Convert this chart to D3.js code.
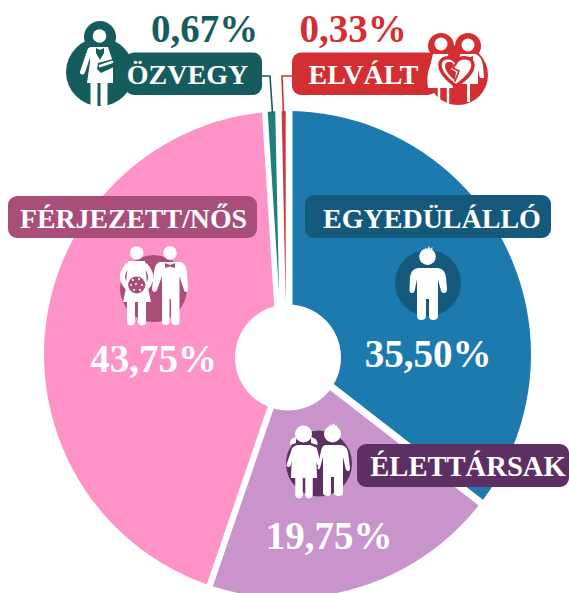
<!DOCTYPE html>
<html><head><meta charset="utf-8">
<script src="https://cdn.jsdelivr.net/npm/d3@7/dist/d3.min.js"></script>
<style>html,body{margin:0;padding:0;background:#fff}svg{display:block}text{font-family:"Liberation Serif",serif;font-weight:700}</style>
</head><body><svg id="c" width="569" height="593"></svg>
<script>
const categories=["EGYEDÜLÁLLÓ","ÉLETTÁRSAK","FÉRJEZETT/NŐS","ÖZVEGY","ELVÁLT"];
const values=[35.50,19.75,43.75,0.67,0.33];
const percentLabels=["35,50%","19,75%","43,75%","0,67%","0,33%"];
const sliceColors=["#1c7aae","#c994cc","#fd93c6","#1f7f7c","#d3343a"];
const badgeColors=["#155a7c","#5d2f63","#a94e78","#175c5c","#d32f33"];
const percentColors=["#fff","#fff","#fff","#175c5c","#d32f33"];
const badgeBoxes=[[305,195,246,43],[357,444,212,43],[8,196,249,42],[125,52.5,137,42.5],[292,52.5,145,42.5]];
const labelAnchors=[[432,228],[468,476],[133.5,228],[187.5,84],[363.5,84]];
const labelSizes=[28,28.6,27.8,28,28];
const percentAnchors=[[428,367],[329,549],[153.5,372],[204.5,42],[353,42]];
// each wedge has its own apex, which makes the white gaps between them
const sliceApex=[[292.5,352],[290.5,359.5],[278.5,375],[279,292],[285.7,305]];

const svg=d3.select("#c"), W="#fff";
const cx=287.5, cy=354.6, R=243.5;
svg.append("clipPath").attr("id","disc").append("circle").attr("cx",cx).attr("cy",cy).attr("r",R);
const pie=d3.pie().sort(null)(values);
const arc=d3.arc().innerRadius(0).outerRadius(R*2);
svg.append("g").attr("clip-path","url(#disc)")
  .selectAll("path").data(pie).join("path").attr("d",arc)
  .attr("transform",(d,i)=>`translate(${sliceApex[i]})`).attr("fill",(d,i)=>sliceColors[i]);
svg.append("circle").attr("cx",288).attr("cy",357.5).attr("r",53).attr("fill",W);

// connectors
const line=d3.line();
svg.append("path").attr("d",line([[262,76],[270,76],[272.5,113]])).attr("fill","none").attr("stroke","#175c5c").attr("stroke-width",1.6);
svg.append("path").attr("d",line([[292,76],[282,76],[283.5,113]])).attr("fill","none").attr("stroke","#d32f33").attr("stroke-width",1.6);

const g=svg.append("g");
const circ=(x,y,r,f)=>g.append("circle").attr("cx",x).attr("cy",y).attr("r",r).attr("fill",f);
const poly=(d,f)=>g.append("path").attr("d",d).attr("fill",f);
const stroke=(d,c,w)=>g.append("path").attr("d",d).attr("fill","none").attr("stroke",c).attr("stroke-width",w).attr("stroke-linecap","round").attr("stroke-linejoin","round");

// halos behind badges
circ(100,72,34,badgeColors[3]); circ(100,37,16,badgeColors[3]);
circ(458,75,30,badgeColors[4]); circ(441,46,13,badgeColors[4]); circ(468,46,13,badgeColors[4]);
circ(428,283,33,badgeColors[0]);
circ(153.5,288.5,33.5,badgeColors[2]);
circ(319,463.5,33,badgeColors[1]);

// badges
g.selectAll("rect").data(badgeBoxes).join("rect")
 .attr("x",d=>d[0]).attr("y",d=>d[1]).attr("width",d=>d[2]).attr("height",d=>d[3]).attr("rx",9).attr("fill",(d,i)=>badgeColors[i]);

// ---- single person (blue)
circ(427.5,256.7,8.3,W); poly("M424,250L426,248L427,250L429,246L430,249L432.5,247L432,252Z",W);
poly("M418,268H438Q445,269 446,277L447,289Q447,293 444,293Q441,293 440.5,289L438,279V316Q438,320 433,320Q429,320 429,316V299H426V316Q426,320 421,320Q417,320 417,316V279L415,289Q414.5,293 412,293Q409,293 409.5,289L410,277Q411,269 418,268Z",W);

// ---- bride and groom (pink)
circ(136.7,253,6.8,W); circ(170,253,6.8,W);
stroke("M127,266Q118,277 127,287M146,266Q155,277 147,287",W,5);
poly("M128,261H145L147,284H126Z",W);
poly("M126,288H148L151,302H123Z",W);
stroke("M131,302V321.5M142,302V321.5",W,8);
circ(136.7,285,8.5,badgeColors[2]);
[[133,280],[139,279],[131,285],[136,284],[142,285],[134,290],[140,290]].forEach(p=>circ(p[0],p[1],1,W));
poly("M160,262H180Q186,263 187,272L188,290Q188,292 186,292Q184,292 184,290L179.5,276V322Q179.5,325 176,325Q171.5,325 171,322V299H169.5V322Q169.5,325 166,325Q162,325 162,322V276L157,290Q156,292 154,292Q152,291 152,289L154,272Q155,263 160,262Z",W);
poly("M165,263L170,265L175,263V268L170,266.5L165,268Z",badgeColors[2]);

// ---- couple (lilac)
circ(303.5,434,8.5,W);
poly("M296,437Q289,438 290,445L296,443ZM311,437Q318,438 317.5,445L311,443Z",W);
stroke("M294,449L288.5,465M315,449L318.5,463",W,4);
poly("M297,445H310Q315,446 316,450L317,478H291L292,450Q293,446 297,445Z",W);
stroke("M299,478V494.5M309,478V494.5",W,7.5);
circ(332.5,434,8.5,W); poly("M329,427L331,424L332,426L334,423L335,426L337,425L337,429Z",W);
poly("M325,445H341Q347,446 348,452L350,468Q350,471 348,471Q346,471 345.5,468L343,457V493Q343,496 339,496Q334,496 334,493V477H331V493Q331,496 328,496Q323,496 323,493V457L320,468Q319,470 318,469Q317,468 318,466L321,451Q322,446 325,445Z",W);

// ---- widow
circ(99.5,36,6.8,W);
stroke("M90,50L82.5,72",W,5);
poly("M90,47H108L113,62L113,83H87L90,62Z",W);
stroke("M94,83V104M104,83V104",W,7);
poly("M96,48L100,50L104,48L104,53L100,60L96,53Z",badgeColors[3]);
poly("M98,63L113,59L114,67L101,73L97,69Z",badgeColors[3]);
stroke("M100,66L112,62",W,2.5);

// ---- divorced
circ(441,44,6.5,W); circ(468,45,6.5,W);
poly("M433,54H448L453,88H428Q426,75 430,66Z",W);
stroke("M439,88V102M448,88V102",W,2.5);
poly("M460,54H476Q482,57 483,66L484,78H480L478,70V84H470V102H467V84H458Z",W);
poly("M463,56L468,58L473,56V60L468,58.5L463,60Z",badgeColors[4]);
const heart="M456,86C445,78 440,72 440,65C440,57 451,55 456,62C461,55 473,57 473,65C473,72 467,78 456,86Z";
g.append("path").attr("d",heart).attr("fill",W).attr("stroke",badgeColors[4]).attr("stroke-width",3.5);
g.append("path").attr("d","M455,80C449,76 445,70 445,66C445,61 452,60 454,65L451,69L456,72Z").attr("fill",badgeColors[4]);
stroke("M457,62L453,68L459,71L455,81",badgeColors[4],1.8);

// texts
g.selectAll("text.lab").data(categories).join("text").attr("class","lab")
 .attr("x",(d,i)=>labelAnchors[i][0]).attr("y",(d,i)=>labelAnchors[i][1])
 .attr("text-anchor","middle").attr("font-size",(d,i)=>labelSizes[i]).attr("fill",W).text(d=>d);
g.selectAll("text.pct").data(percentLabels).join("text").attr("class","pct")
 .attr("x",(d,i)=>percentAnchors[i][0]).attr("y",(d,i)=>percentAnchors[i][1])
 .attr("text-anchor","middle").attr("font-size",39).attr("fill",(d,i)=>percentColors[i]).text(d=>d);
</script></body></html>
